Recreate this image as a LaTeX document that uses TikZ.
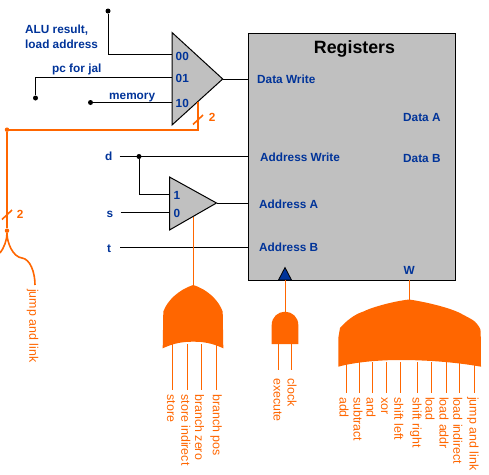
\documentclass[tikz,border=0pt]{standalone}
\usepackage{fontspec}
\setmainfont{Liberation Sans}
\usepackage{xcolor}
\usepackage{tikz}
\usetikzlibrary{calc}
\definecolor{ctrl}{RGB}{255,102,0}
\definecolor{sig}{RGB}{0,51,153}
\definecolor{unit}{RGB}{192,192,192}
\begin{document}
\begin{tikzpicture}[
  x=1pt, y=-1pt,
  wire/.style={black, line width=0.9pt},
  ctl/.style={ctrl, line width=1.6pt},
  block/.style={fill=unit, draw=black, line width=1pt, line join=miter},
  gate/.style={fill=ctrl, draw=none},
  sigtxt/.style={font=\bfseries\fontsize{11.8}{12}\selectfont, text=sig, inner sep=0pt, anchor=base west},
  ctltxt/.style={font=\fontsize{12.4}{13}\selectfont, text=ctrl, inner sep=0pt, rotate=-90, anchor=west},
  bittxt/.style={font=\bfseries\fontsize{11.8}{12}\selectfont, text=ctrl, inner sep=0pt, anchor=base west},
  dot/.style={circle, fill=black, minimum size=5pt, inner sep=0pt},
  cdot/.style={circle, fill=ctrl, minimum size=4.5pt, inner sep=0pt},
]
  \useasboundingbox (0,0) rectangle (489,474);

  % Register file
  \node[block, minimum width=207pt, minimum height=247pt, inner sep=0pt, anchor=north west] (regs) at (248.3,32.8) {};
  \node[font=\bfseries\fontsize{17.8}{18}\selectfont, inner sep=0pt, anchor=base] (regtitle) at (354.5,53.3) {Registers};
  \foreach \n/\x/\y/\t in {dw/257/83.3/Data Write, da/403/121.7/Data A, db/403/162.7/Data B,
      aw/260/161/Address Write, aa/259/208/Address A, ab/259/251.7/Address B, wlab/403.5/274/W}
    \node[sigtxt] (\n) at (\x,\y) {\t};

  % Clock triangle
  \fill[sig, draw=black, line width=0.8pt] (278.5,280) -- (285,267.5) -- (291.5,280) -- cycle;

  % Upper mux
  \coordinate (mt) at (172,32.5);
  \coordinate (mb) at (172,125);
  \coordinate (mo) at (222.7,79);
  \filldraw[block] (mt) -- (mo) -- (mb) -- cycle;
  \foreach \n/\y/\t in {m00/60/00, m01/82/01, m10/107/10}
    \node[sigtxt] (\n) at (175.5,\y) {\t};
  \coordinate (mi0) at (172,54.7);
  \coordinate (mi1) at (172,77);
  \coordinate (mi2) at (172,102.5);
  \coordinate (regdw) at (248.3,79);
  \node[dot] (alu) at (108,11) {};
  \node[dot] (pc) at (35.5,98) {};
  \node[dot] (mem) at (90.5,102.5) {};
  \draw[wire] (alu) |- (mi0);
  \draw[wire] (pc) |- (mi1);
  \draw[wire] (mem) -- (mi2);
  \draw[wire] (mo) -- (regdw);
  \node[sigtxt] (alutxt) at (25,33) {ALU result,};
  \node[sigtxt] (loadtxt) at (25,48) {load address};
  \node[sigtxt] (pctxt) at (52,72) {pc for jal};
  \node[sigtxt] (memtxt) at (109,99) {memory};

  % Lower mux
  \coordinate (nt) at (169.5,177);
  \coordinate (nb) at (169.5,230);
  \coordinate (no) at (216.5,203);
  \coordinate (din) at (119.5,156.5);
  \coordinate (sin) at (120.5,212);
  \coordinate (tin) at (120,247.5);
  \coordinate (regaw) at (248.3,156.5);
  \coordinate (regaa) at (248.3,203);
  \coordinate (regab) at (248.3,247.5);
  \coordinate (ni1) at (169.5,194);
  \coordinate (ni0) at (169.5,212);
  \node[dot] (dj) at (139,156.5) {};
  \draw[wire] (din) -- (regaw);
  \draw[wire] (dj) |- (ni1);
  \draw[wire] (sin) -- (ni0);
  \draw[wire] (tin) -- (regab);
  \draw[wire] (no) -- (regaa);
  \coordinate (nsel) at (193.5,217);
  \coordinate (sgout) at (193.5,286);
  \draw[ctl] (nsel) -- (sgout);
  \filldraw[block] (nt) -- (no) -- (nb) -- cycle;
  \node[sigtxt] (n1) at (173.5,199.3) {1};
  \node[sigtxt] (n0) at (173.5,217.3) {0};
  \node[sigtxt] (dtxt) at (105,160.7) {d};
  \node[sigtxt] (stxt) at (106.3,217) {s};
  \node[sigtxt] (ttxt) at (107,252) {t};

  % Jump and link control
  \coordinate (msel) at (198,102);
  \node[cdot] (cturn) at (7,129.7) {};
  \node[cdot] (cfork) at (7,230.7) {};
  \draw[ctl] (msel) |- (cturn);
  \draw[ctl] (cturn) -- (cfork);
  \draw[ctl] (193,124.5) -- (203,115);
  \draw[ctl] (2,219.5) -- (12,210);
  \node[bittxt] (two1) at (208.7,121.7) {2};
  \node[bittxt] (two2) at (16.7,218.3) {2};
  \draw[ctl] (cfork) .. controls (7,240) and (4,248) .. (0,253);
  \draw[ctl] (cfork) .. controls (7,243) and (13,257) .. (22,258)
    .. controls (30,259) and (35,272) .. (35,285);
  \node[ctltxt] (jal) at (32.5,289) {jump and link};

  % Gate for mux select
  \fill[gate] (162.7,348.3) -- (163.3,311.7) .. controls (167,301) and (178,290) .. (193.3,285)
    .. controls (208.6,290) and (219,301) .. (222.7,311.7) -- (223.3,348.3)
    .. controls (212,343) and (203,341.7) .. (193.3,341.7)
    .. controls (183,341.7) and (174,343) .. (162.7,348.3) -- cycle;
  \foreach \i/\x/\lx/\t in {1/172.5/171/store, 2/187.5/185.7/store indirect, 3/201.5/199.5/branch zero, 4/216.5/216/branch pos} {
    \coordinate (sg\i a) at (\x,344);
    \coordinate (sg\i b) at (\x,390);
    \draw[ctl] (sg\i a) -- (sg\i b);
    \node[ctltxt] (sgt\i) at (\lx,394.3) {\t};
  }

  % Gate for clock
  \fill[gate] (271.7,344) -- (271.7,325) .. controls (271.7,317) and (278,311.7) .. (285,311.7)
    .. controls (292,311.7) and (298.3,317) .. (298.3,325) -- (298.3,344) -- cycle;
  \coordinate (ckin) at (285.5,280);
  \coordinate (ckout) at (285.5,312);
  \draw[ctl] (ckin) -- (ckout);
  \foreach \i/\x/\lx/\t in {1/278.5/277.6/execute, 2/291.5/292/clock} {
    \coordinate (ck\i a) at (\x,343);
    \coordinate (ck\i b) at (\x,370);
    \draw[ctl] (ck\i a) -- (ck\i b);
    \node[ctltxt] (ckt\i) at (\lx,378) {\t};
  }

  % Gate for register write
  \fill[gate] (338.3,366.7) -- (338.3,338) -- (340,328) .. controls (346,321) and (355,314) .. (363,311.7)
    .. controls (372,307) and (395,301) .. (409,299.5)
    .. controls (420,301) and (445,306) .. (460,313)
    .. controls (467,317) and (472,319) .. (475,321.7)
    .. controls (478,325) and (480.7,328) .. (480.7,332) -- (481,366.7)
    .. controls (455,362) and (425,360) .. (400,360)
    .. controls (380,360) and (355,362) .. (338.3,366.7) -- cycle;
  \coordinate (wrin) at (409.5,280);
  \coordinate (wrout) at (409.5,300);
  \draw[ctl] (wrin) -- (wrout);
  \foreach \i/\x/\lx/\t in {1/346.5/344/add, 2/359.5/358/subtract, 3/372.5/371/and, 4/386.5/384.3/xor,
      5/400.5/398.7/shift left, 6/417.5/415.7/shift right, 7/431.5/430/load, 8/446.5/444/load addr,
      9/459.5/457.7/load indirect, 10/474.5/472.7/jump and link} {
    \coordinate (wr\i a) at (\x,362);
    \coordinate (wr\i b) at (\x,392.7);
    \draw[ctl] (wr\i a) -- (wr\i b);
    \node[ctltxt] (wrt\i) at (\lx,397) {\t};
  }
\end{tikzpicture}
\end{document}
